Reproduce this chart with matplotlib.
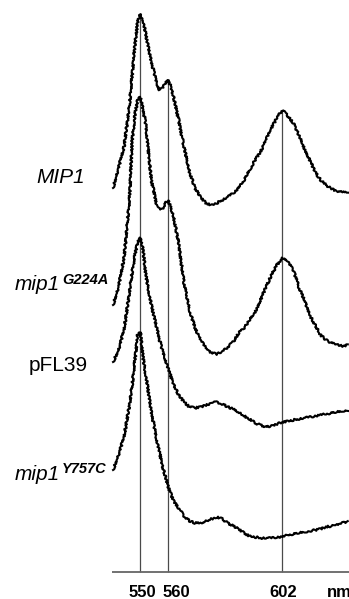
import numpy as np
import matplotlib
matplotlib.use("Agg")
import matplotlib.pyplot as plt

plt.rcParams["font.family"] = ["Liberation Sans", "DejaVu Sans"]

# ── data (stacked spectra, arbitrary absorbance units) ──
wl = [540, 542, 544, 546, 547, 548, 549, 550, 551, 552, 554, 556, 557, 558,
      559, 560, 561, 562, 564, 566, 568, 570, 572, 574, 576, 578, 580, 582,
      584, 586, 588, 590, 592, 594, 596, 598, 600, 602, 604, 606, 608, 610,
      612, 614, 616, 618, 620, 622, 624, 626]

mip1_wt = [3.84, 4.04, 4.25, 4.67, 4.97, 5.27, 5.50, 5.58, 5.52, 5.37, 5.10,
           4.89, 4.82, 4.84, 4.88, 4.92, 4.87, 4.77, 4.52, 4.25, 4.00, 3.84,
           3.75, 3.69, 3.67, 3.69, 3.72, 3.75, 3.79, 3.84, 3.92, 4.02, 4.12,
           4.20, 4.32, 4.44, 4.54, 4.62, 4.56, 4.49, 4.37, 4.24, 4.12, 4.00,
           3.92, 3.87, 3.83, 3.81, 3.80, 3.79]

mip1_g224a = [2.67, 2.85, 3.14, 3.72, 4.32, 4.57, 4.72, 4.75, 4.62, 4.47, 3.92,
              3.67, 3.62, 3.63, 3.68, 3.72, 3.66, 3.57, 3.29, 2.89, 2.62, 2.44,
              2.32, 2.24, 2.19, 2.18, 2.20, 2.25, 2.30, 2.39, 2.44, 2.52, 2.60,
              2.72, 2.85, 2.97, 3.07, 3.14, 3.10, 3.02, 2.85, 2.72, 2.57, 2.47,
              2.37, 2.32, 2.29, 2.27, 2.26, 2.27]

pfl39 = [2.10, 2.22, 2.42, 2.80, 3.00, 3.17, 3.30, 3.34, 3.22, 2.97, 2.67,
         2.44, 2.32, 2.22, 2.14, 2.05, 1.97, 1.89, 1.77, 1.70, 1.65, 1.64,
         1.65, 1.67, 1.69, 1.70, 1.68, 1.65, 1.63, 1.60, 1.56, 1.53, 1.49,
         1.47, 1.45, 1.46, 1.48, 1.50, 1.51, 1.52, 1.53, 1.54, 1.55, 1.56,
         1.57, 1.58, 1.59, 1.60, 1.61, 1.62]

mip1_y757c = [1.02, 1.17, 1.35, 1.67, 1.87, 2.12, 2.37, 2.40, 2.14, 1.97, 1.60,
              1.32, 1.20, 1.07, 0.97, 0.87, 0.79, 0.72, 0.64, 0.56, 0.51, 0.49,
              0.49, 0.51, 0.53, 0.55, 0.53, 0.49, 0.46, 0.43, 0.39, 0.36, 0.35,
              0.34, 0.34, 0.34, 0.35, 0.35, 0.37, 0.38, 0.39, 0.40, 0.41, 0.42,
              0.43, 0.45, 0.46, 0.47, 0.49, 0.50]

marks = [550, 560, 602]
mark_labels = ["550", "560", "602"]

# ── figure ──────────────────────────────────────────────────────────────────
W, H = 349, 599
fig = plt.figure(figsize=(W / 100, H / 100), dpi=100, facecolor="white")
ax = fig.add_axes([0, 0, 1, 1])
ax.set_xlim(498.6, 626.4)
ax.set_ylim(-0.27, 5.72)
ax.axis("off")

GREY = "#4a4a4a"

# marker lines up to the top spectrum
tops = np.interp(marks, wl, mip1_wt)
ax.vlines(marks, 0, tops, color=GREY, linewidth=0.9, zorder=1)
ax.hlines(0, 539.6, 640, color="#666666", linewidth=1.3, zorder=1)

for ys in [mip1_wt, mip1_g224a, pfl39, mip1_y757c]:
    ln, = ax.plot(wl, ys, color="black", linewidth=1.5, zorder=3)
    ln.set_sketch_params(scale=1.0, length=2.5, randomness=3)


def fx(px):
    return px / W


def fy(py):
    return 1 - py / H


# sample labels
fig.text(fx(36), fy(183), "MIP1", fontsize=15, style="italic", va="baseline")
fig.text(fx(15), fy(290), "mip1", fontsize=15, style="italic", va="baseline")
fig.text(fx(62), fy(284), "G224A", fontsize=10.5, style="italic",
         fontweight="bold", va="baseline")
fig.text(fx(29), fy(371), "pFL39", fontsize=15, va="baseline")
fig.text(fx(15), fy(480), "mip1", fontsize=15, style="italic", va="baseline")
fig.text(fx(62), fy(473), "Y757C", fontsize=10.5, style="italic",
         fontweight="bold", va="baseline")

# wavelength labels ("nm" runs off the right edge, as in the source figure)
for px, lab in zip([142.5, 176, 283], mark_labels):
    fig.text(fx(px), fy(597), lab, fontsize=12, fontweight="bold",
             ha="center", va="baseline")
fig.text(fx(327), fy(597), "nm", fontsize=12, fontweight="bold", va="baseline")

fig.savefig("out.png", dpi=100, facecolor="white")
